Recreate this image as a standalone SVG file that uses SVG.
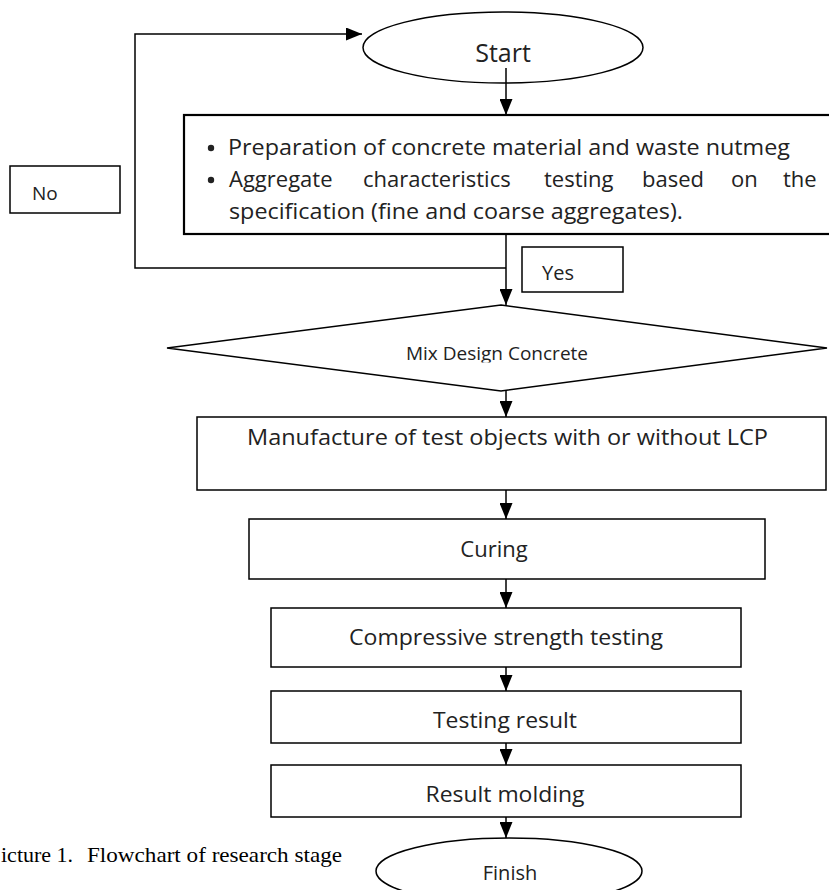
<svg xmlns="http://www.w3.org/2000/svg" width="829" height="890" viewBox="0 0 829 890">
<style>
.shape{fill:#fff;stroke:#000;stroke-width:1.5}
.thick{stroke-width:2.2}
.t{font-family:"Open Sans","Liberation Sans",sans-serif;fill:#222}
.c{text-anchor:middle}
.conn{fill:none;stroke:#000;stroke-width:1.5}
.cap{font-family:"Liberation Serif","Times New Roman",serif;fill:#000;font-size:22px}
</style>
<defs>
<marker id="ah" viewBox="0 0 16 13" markerWidth="16" markerHeight="13" refX="16" refY="6.5" orient="auto" markerUnits="userSpaceOnUse">
<path d="M0,0 L16,6.5 L0,13 z" fill="#000"/>
</marker>
<clipPath id="mixclip"><rect x="160" y="300" width="669" height="62.5"/></clipPath>
</defs>

<g id="start">
<ellipse class="shape" cx="503" cy="47.5" rx="140" ry="35.5"/>
<text class="t c" x="503" y="62" font-size="25">Start</text>
</g>

<g id="preparation">
<rect class="shape thick" x="184" y="115" width="650" height="119"/>
<circle cx="211" cy="148" r="3.2" fill="#222"/>
<text class="t" x="228" y="155" font-size="22" textLength="562" lengthAdjust="spacingAndGlyphs">Preparation of concrete material and waste nutmeg</text>
<circle cx="211" cy="180" r="3.2" fill="#222"/>
<text class="t" y="187" font-size="22"><tspan x="229">Aggregate</tspan><tspan x="363">characteristics</tspan><tspan x="544">testing</tspan><tspan x="642">based</tspan><tspan x="731">on</tspan><tspan x="783">the</tspan></text>
<text class="t" x="229" y="219" font-size="22" textLength="454" lengthAdjust="spacingAndGlyphs">specification (fine and coarse aggregates).</text>
</g>

<g id="no">
<rect class="shape" x="10" y="166" width="110" height="47"/>
<text class="t" x="32" y="200" font-size="19">No</text>
</g>

<g id="yes">
<rect class="shape" x="522" y="247" width="101" height="45"/>
<text class="t" x="542" y="280" font-size="20">Yes</text>
</g>

<g id="mixdesign">
<polygon class="shape" points="501,305 827,348 501,391 167,348"/>
<text class="t c" x="497" y="360" font-size="19" clip-path="url(#mixclip)">Mix Design Concrete</text>
</g>

<g id="manufacture">
<rect class="shape" x="197" y="417" width="629" height="73"/>
<text class="t" x="247" y="445" font-size="21" textLength="521" lengthAdjust="spacingAndGlyphs">Manufacture of test objects with or without LCP</text>
</g>

<g id="curing">
<rect class="shape" x="249" y="519" width="516" height="60"/>
<text class="t c" x="494" y="557" font-size="22">Curing</text>
</g>

<g id="compressive">
<rect class="shape" x="271" y="608" width="470" height="59"/>
<text class="t c" x="506" y="645" font-size="22" textLength="314" lengthAdjust="spacingAndGlyphs">Compressive strength testing</text>
</g>

<g id="testing">
<rect class="shape" x="271" y="691" width="470" height="52"/>
<text class="t c" x="505" y="728" font-size="22" textLength="144" lengthAdjust="spacingAndGlyphs">Testing result</text>
</g>

<g id="molding">
<rect class="shape" x="271" y="765" width="470" height="52"/>
<text class="t c" x="505" y="802" font-size="22" textLength="159" lengthAdjust="spacingAndGlyphs">Result molding</text>
</g>

<g id="finish">
<ellipse class="shape" cx="509" cy="871" rx="133" ry="33"/>
<text class="t c" x="510" y="880" font-size="20">Finish</text>
</g>

<g id="connectors">
<line class="conn" x1="506" y1="68" x2="506" y2="115" marker-end="url(#ah)"/>
<line class="conn" x1="506" y1="234" x2="506" y2="305" marker-end="url(#ah)"/>
<polyline class="conn" points="506,268 135,268 135,34 362,34" marker-end="url(#ah)"/>
<line class="conn" x1="506" y1="391" x2="506" y2="417" marker-end="url(#ah)"/>
<line class="conn" x1="506" y1="490" x2="506" y2="519" marker-end="url(#ah)"/>
<line class="conn" x1="506" y1="579" x2="506" y2="608" marker-end="url(#ah)"/>
<line class="conn" x1="506" y1="667" x2="506" y2="691" marker-end="url(#ah)"/>
<line class="conn" x1="506" y1="743" x2="506" y2="765" marker-end="url(#ah)"/>
<line class="conn" x1="506" y1="817" x2="506" y2="838" marker-end="url(#ah)"/>
</g>

<g id="caption">
<text class="cap" y="862"><tspan x="1">icture 1.</tspan><tspan x="87" textLength="255" lengthAdjust="spacingAndGlyphs">Flowchart of research stage</tspan></text>
</g>
</svg>
